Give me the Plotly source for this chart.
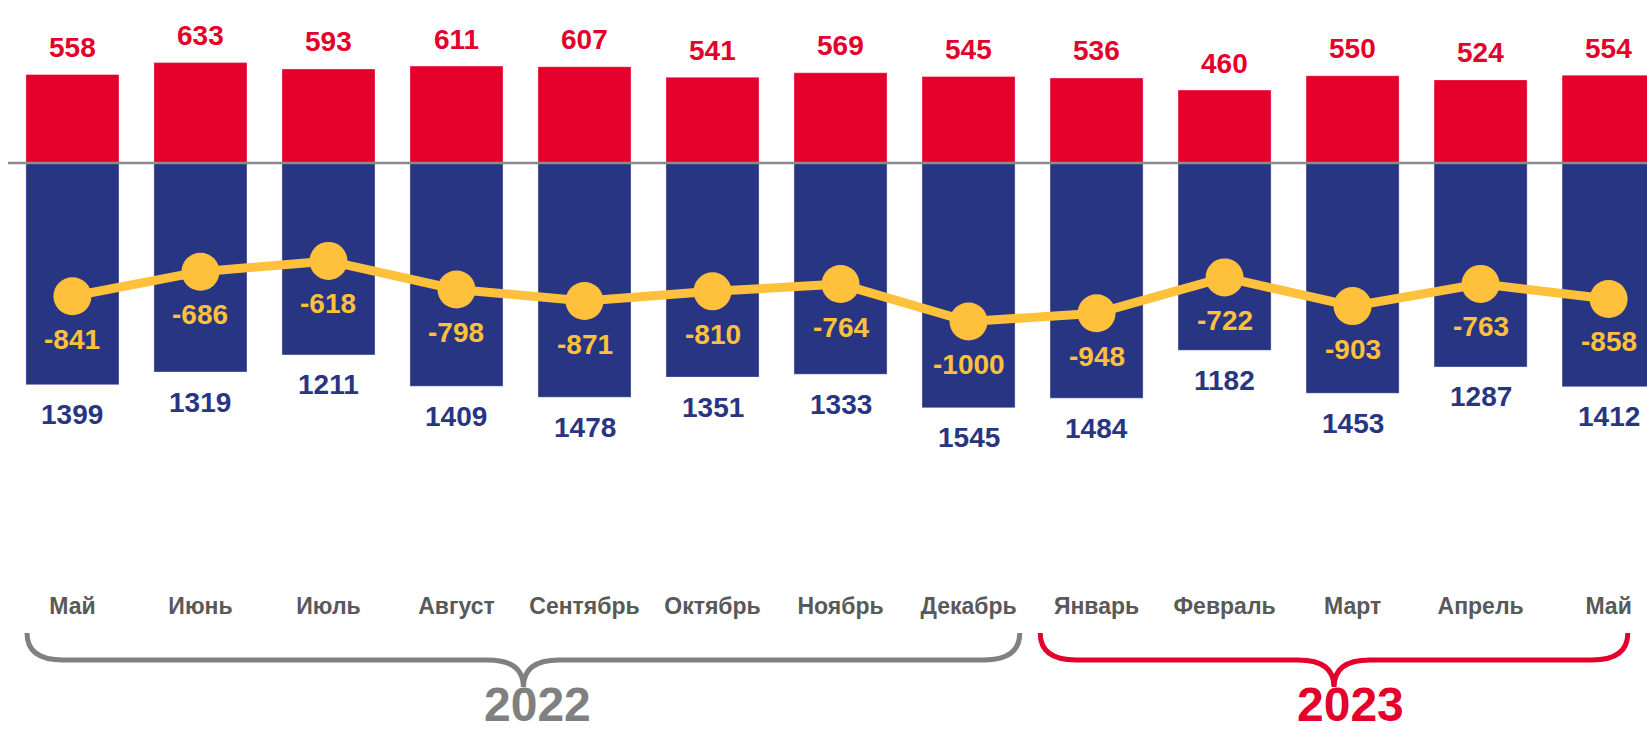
import plotly.graph_objects as go

# data
months = ['Май', 'Июнь', 'Июль', 'Август', 'Сентябрь', 'Октябрь', 'Ноябрь',
          'Декабрь', 'Январь', 'Февраль', 'Март', 'Апрель', 'Май']
red_values = [558, 633, 593, 611, 607, 541, 569, 545, 536, 460, 550, 524, 554]
blue_values = [1399, 1319, 1211, 1409, 1478, 1351, 1333, 1545, 1484, 1182, 1453, 1287, 1412]
balance = [-841, -686, -618, -798, -871, -810, -764, -1000, -948, -722, -903, -763, -858]
years = ['2022', '2023']

COLORS = {
    'red': '#E4002B',
    'blue': '#283583',
    'yellow': '#FFC13B',
    'grey': '#808080',
    'text': '#595959',
}
FONT = 'Liberation Sans, Arial, sans-serif'

W, H = 1647, 735
x = list(range(len(months)))

fig = go.Figure()
fig.add_trace(go.Bar(
    x=x, y=red_values, width=0.727,
    marker=dict(color=COLORS['red'], line=dict(color='rgba(255,255,255,0.35)', width=1)),
    hoverinfo='skip'
))
fig.add_trace(go.Bar(
    x=x, y=[-v for v in blue_values], width=0.727,
    marker=dict(color=COLORS['blue'], line=dict(color='rgba(255,255,255,0.35)', width=1)),
    hoverinfo='skip'
))
fig.add_trace(go.Scatter(
    x=x, y=balance, mode='lines+markers',
    line=dict(color=COLORS['yellow'], width=9),
    marker=dict(color=COLORS['yellow'], size=38),
    hoverinfo='skip'
))

annotations = []
label_font = dict(family=FONT, size=28, weight='bold')
for i in x:
    annotations.append(dict(x=i, y=red_values[i], text=str(red_values[i]), yshift=27,
                            font=dict(label_font, color=COLORS['red'])))
    annotations.append(dict(x=i, y=-blue_values[i], text=str(blue_values[i]), yshift=-30,
                            font=dict(label_font, color=COLORS['blue'])))
    annotations.append(dict(x=i, y=balance[i], text=str(balance[i]), yshift=-43,
                            font=dict(label_font, color=COLORS['yellow'])))
for a in annotations:
    a.update(showarrow=False, xref='x', yref='y', yanchor='middle')


def brace(x0, x1, color):
    # curly brace under a group of months, x in data units, y in paper units
    top, mid, tip = 1 - 633 / H, 1 - 660 / H, 1 - 687 / H
    r = 0.28
    xm = (x0 + x1) / 2
    path = (f'M {x0},{top} Q {x0},{mid} {x0 + r},{mid} L {xm - r},{mid} '
            f'Q {xm},{mid} {xm},{tip} Q {xm},{mid} {xm + r},{mid} '
            f'L {x1 - r},{mid} Q {x1},{mid} {x1},{top}')
    return dict(type='path', path=path, xref='x', yref='paper',
                line=dict(color=color, width=5))


shapes = [
    dict(type='line', xref='paper', yref='y', x0=8 / W, x1=1, y0=0, y1=0,
         line=dict(color='#8C8C8C', width=2.5)),
    brace(-0.355, 7.40, COLORS['grey']),
    brace(7.56, 12.15, COLORS['red']),
]

for year, xc, col in [(years[0], 3.63, COLORS['grey']), (years[1], 9.98, COLORS['red'])]:
    annotations.append(dict(x=xc, y=1 - 704 / H, xref='x', yref='paper', text=year,
                            showarrow=False, yanchor='middle',
                            font=dict(family=FONT, size=48, weight='bold', color=col)))

fig.update_layout(
    width=W, height=H,
    margin=dict(l=0, r=0, t=0, b=0),
    paper_bgcolor='#FFFFFF',
    plot_bgcolor='#FFFFFF',
    barmode='relative',
    showlegend=False,
    xaxis=dict(range=[-0.566, 12.30], tickvals=x, ticktext=months,
               showgrid=False, zeroline=False, showline=False, ticks='',
               tickfont=dict(family=FONT, size=23, weight='bold', color=COLORS['text'])),
    yaxis=dict(domain=[145 / H, 1], range=[-2694, 1028], visible=False,
               showgrid=False, zeroline=False),
    shapes=shapes,
    annotations=annotations,
)

fig.write_html('out.html', config={'displayModeBar': False},
               post_script="document.body.style.margin='0';")
